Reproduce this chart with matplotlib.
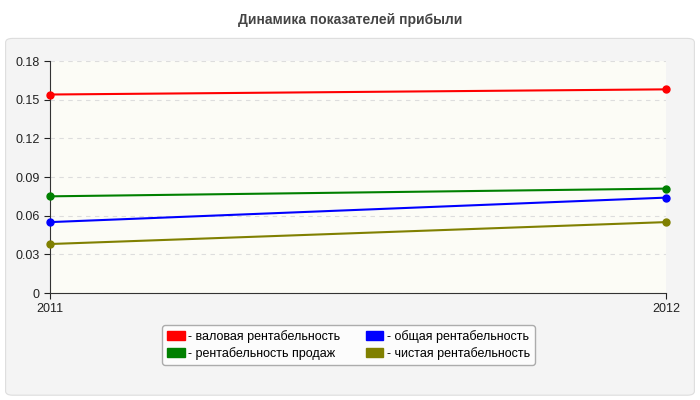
import matplotlib.pyplot as plt
import matplotlib.patches as mpatches

plt.rcParams["font.family"] = ["Liberation Sans", "DejaVu Sans"]

years = ["2011", "2012"]
gross = [0.154, 0.158]
sales = [0.075, 0.081]
total = [0.055, 0.074]
net = [0.038, 0.055]

series = [
    ("- валовая рентабельность", gross, "#ff0000"),
    ("- рентабельность продаж", sales, "#008000"),
    ("- общая рентабельность", total, "#0000ff"),
    ("- чистая рентабельность", net, "#808000"),
]

fig = plt.figure(figsize=(7, 4), dpi=100)
fig.patch.set_facecolor("white")

# outer panel, kept behind the axes
fig.patches.append(mpatches.FancyBboxPatch(
    (0.008, 0.012), 0.984, 0.892, boxstyle="round,pad=0,rounding_size=0.01",
    transform=fig.transFigure, facecolor="#f4f4f4", edgecolor="#dddddd",
    linewidth=0.8, zorder=-5))

fig.text(0.5, 0.95, "Динамика показателей прибыли", ha="center", va="center",
         fontsize=10, fontweight="bold", color="#444444")

ax = fig.add_axes([0.0714, 0.2675, 0.880, 0.58])
ax.set_zorder(2)
ax.set_facecolor("#fcfcf6")
x = [0, 1]
for label, vals, color in series:
    ax.plot(x, vals, color=color, linewidth=1.5, marker="o", markersize=5,
            label=label, zorder=3, clip_on=False)

ax.set_xlim(0, 1)
ax.set_ylim(0, 0.18)
ax.set_xticks(x)
ax.set_xticklabels(years)
ax.set_yticks([0, 0.03, 0.06, 0.09, 0.12, 0.15, 0.18])
ax.set_yticklabels(["0", "0.03", "0.06", "0.09", "0.12", "0.15", "0.18"])
ax.tick_params(labelsize=9, colors="#222222", length=4)
ax.yaxis.grid(True, linestyle=(0, (4, 4)), color="#dddddd", linewidth=0.8)
for s in ["top", "right"]:
    ax.spines[s].set_visible(False)
for s in ["left", "bottom"]:
    ax.spines[s].set_color("#333333")

labels = [lab for lab, _, _ in series]
leg = fig.legend([mpatches.Patch(color=c) for _, _, c in series], labels,
                 loc="center", bbox_to_anchor=(0.498, 0.1375), ncol=2,
                 fontsize=9, frameon=True, handlelength=1.4, handleheight=0.7,
                 columnspacing=2.0, labelspacing=0.3, handletextpad=0.3)
leg.get_frame().set_edgecolor("#999999")
leg.get_frame().set_facecolor("white")
leg.set_zorder(3)

fig.savefig("out.png", dpi=100)
